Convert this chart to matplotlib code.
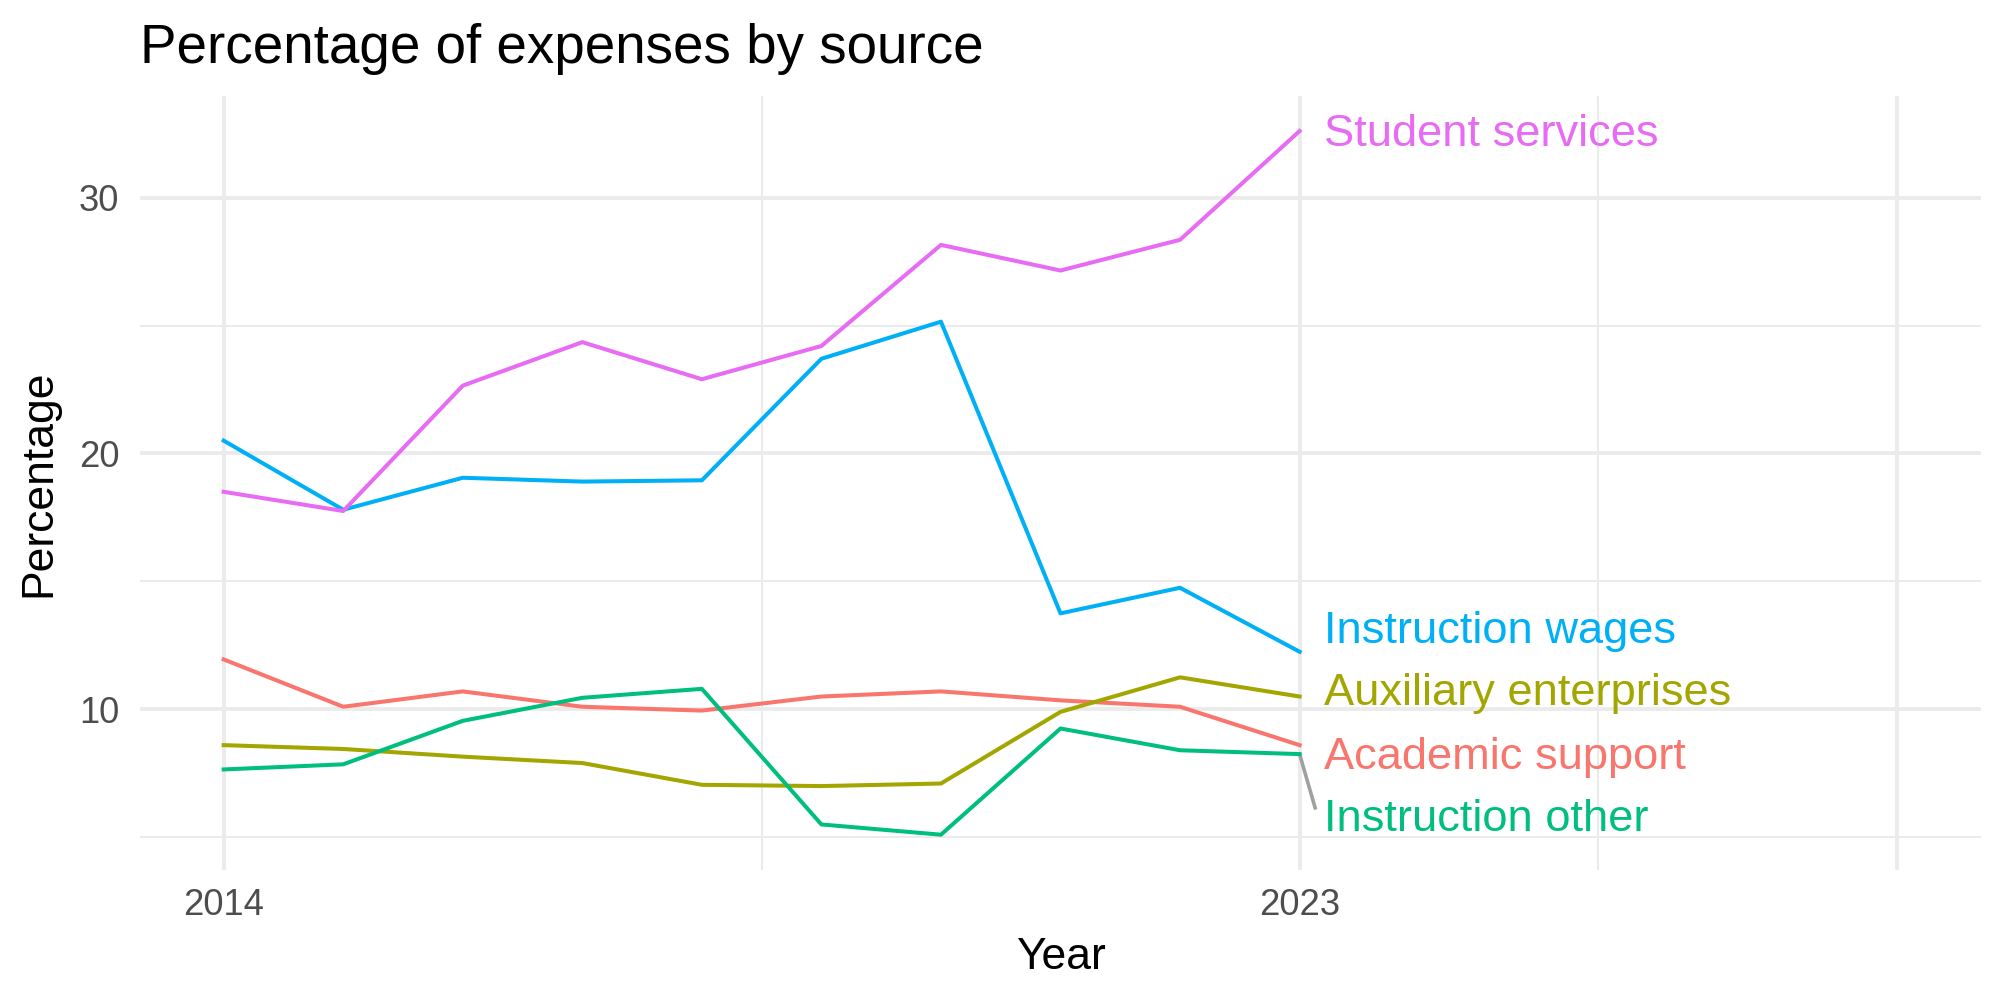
import matplotlib
matplotlib.use('Agg')
import matplotlib.pyplot as plt

plt.rcParams['font.family'] = ['Liberation Sans', 'DejaVu Sans']

# data
years = [2014, 2015, 2016, 2017, 2018, 2019, 2020, 2021, 2022, 2023]
academic_support = [11.95, 10.1, 10.7, 10.1, 9.95, 10.5, 10.7, 10.35, 10.1, 8.6]
auxiliary_enterprises = [8.6, 8.45, 8.15, 7.9, 7.05, 7.0, 7.1, 9.9, 11.25, 10.5]
instruction_other = [7.65, 7.85, 9.55, 10.45, 10.8, 5.5, 5.1, 9.25, 8.4, 8.25]
instruction_wages = [20.5, 17.8, 19.05, 18.9, 18.95, 23.7, 25.15, 13.75, 14.75, 12.25]
student_services = [18.5, 17.75, 22.65, 24.35, 22.9, 24.2, 28.15, 27.15, 28.35, 32.6]

series = {
    'Academic support': academic_support,
    'Auxiliary enterprises': auxiliary_enterprises,
    'Instruction other': instruction_other,
    'Instruction wages': instruction_wages,
    'Student services': student_services,
}
colors = ['#F8766D', '#A3A500', '#00BF7D', '#00B0F6', '#E76BF3']
# where the repelled labels ended up (y in data units)
label_y = {
    'Academic support': 8.1,
    'Auxiliary enterprises': 10.6,
    'Instruction other': 5.7,
    'Instruction wages': 13.05,
    'Student services': 32.45,
}

fig = plt.figure(figsize=(10, 5), dpi=200)
ax = fig.add_axes([0.07, 0.13, 0.9205, 0.774])

# ggplot theme_minimal style grid
for x in [2018.5, 2025.5]:
    ax.axvline(x, color='#EBEBEB', lw=0.7, zorder=0)
for x in [2014, 2023, 2028]:
    ax.axvline(x, color='#EBEBEB', lw=1.4, zorder=0)
for y in [5, 15, 25]:
    ax.axhline(y, color='#EBEBEB', lw=0.7, zorder=0)
for y in [10, 20, 30]:
    ax.axhline(y, color='#EBEBEB', lw=1.4, zorder=0)

for (name, vals), c in zip(series.items(), colors):
    ax.plot(years, vals, color=c, lw=1.45, zorder=2)
    ly = label_y[name]
    ax.text(years[-1] + 0.2, ly, name, color=c, fontsize=16.3,
            ha='left', va='center', zorder=3)
    if abs(ly - vals[-1]) > 1.5:
        # leader segment like ggrepel
        ax.plot([years[-1], years[-1] + 0.13], [vals[-1], ly + 0.45],
                color='#A0A0A0', lw=1.3, zorder=1)

ax.set_xlim(2013.3, 2028.7)
ax.set_ylim(3.72, 33.97)
ax.set_xticks([2014, 2023])
ax.set_yticks([10, 20, 30])
ax.tick_params(axis='both', length=0, labelsize=13.1, labelcolor='#4D4D4D')
ax.tick_params(axis='y', pad=7.5)
ax.tick_params(axis='x', pad=6.5)
for s in ax.spines.values():
    s.set_visible(False)

ax.set_xlabel('Year', fontsize=16, labelpad=5)
ax.set_ylabel('Percentage', fontsize=16, labelpad=7)
ax.set_title('Percentage of expenses by source', fontsize=19.7, loc='left', pad=12)

fig.savefig('out.png', dpi=200)
